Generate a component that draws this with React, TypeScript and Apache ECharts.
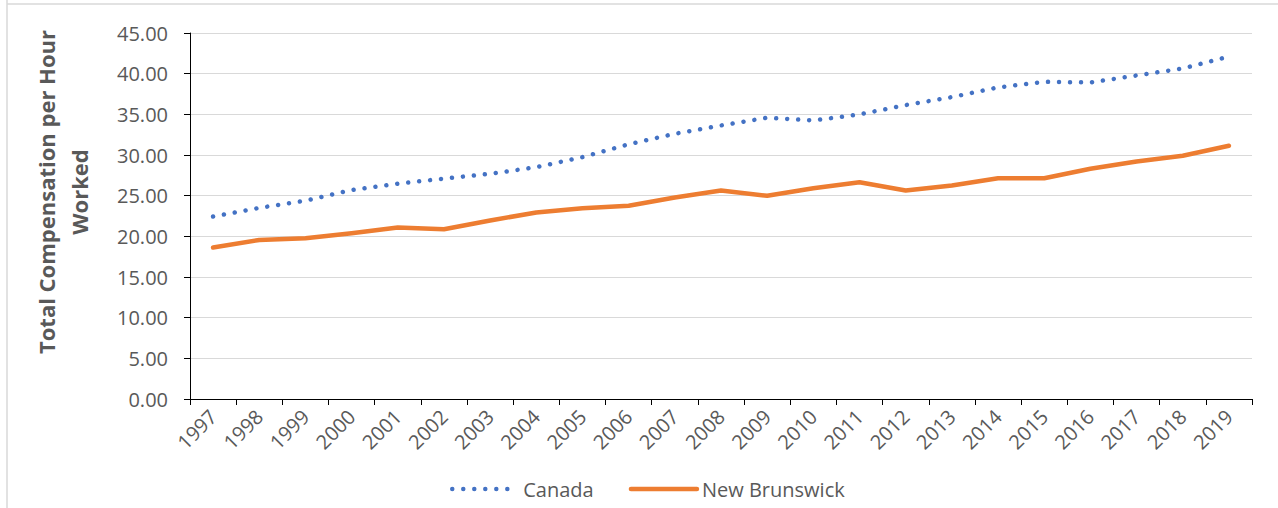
import React, { useEffect, useRef } from "react";
import * as echarts from "echarts";

const years = ["1997","1998","1999","2000","2001","2002","2003","2004","2005","2006","2007","2008","2009","2010","2011","2012","2013","2014","2015","2016","2017","2018","2019"];
const canada = [22.43, 23.5, 24.38, 25.7, 26.47, 27.1, 27.69, 28.5, 29.74, 31.32, 32.61, 33.63, 34.58, 34.25, 34.99, 36.14, 37.12, 38.31, 39.0, 38.92, 39.78, 40.64, 42.1];
const newBrunswick = [18.62, 19.56, 19.77, 20.39, 21.08, 20.88, 21.95, 22.93, 23.46, 23.75, 24.77, 25.63, 24.98, 25.92, 26.66, 25.63, 26.25, 27.15, 27.15, 28.3, 29.2, 29.9, 31.13];
const yTitle = "Total Compensation per Hour\nWorked";
const seriesNames = ["Canada", "New Brunswick"];

const FONT = "'Open Sans', sans-serif";
const GREY = "#595959";

export default function App() {
  const ref = useRef<HTMLDivElement>(null);
  useEffect(() => {
    if (!ref.current) return;
    const chart = echarts.init(ref.current, null, { renderer: "svg" });
    chart.setOption({
      animation: false,
      backgroundColor: "#ffffff",
      textStyle: { fontFamily: FONT },
      grid: { left: 190, right: 26, top: 33, height: 366, containLabel: false },
      xAxis: {
        type: "category",
        data: years,
        boundaryGap: true,
        axisLine: { show: true, lineStyle: { color: "#000", width: 1 } },
        axisTick: { show: true, length: 6, lineStyle: { color: "#000", width: 1 } },
        axisLabel: { rotate: 45, margin: 14, color: GREY, fontSize: 20, fontFamily: FONT, interval: 0 },
        splitLine: { show: false },
      },
      yAxis: {
        type: "value",
        min: 0,
        max: 45,
        interval: 5,
        axisLine: { show: true, lineStyle: { color: "#000", width: 1 } },
        axisTick: { show: true, length: 6, lineStyle: { color: "#000", width: 1 } },
        axisLabel: { margin: 22, color: GREY, fontSize: 20, fontFamily: FONT, formatter: (v: number) => v.toFixed(2) },
        splitLine: { show: true, lineStyle: { color: "#D9D9D9", width: 1 } },
      },
      legend: {
        left: 445,
        top: 474,
        itemWidth: 66,
        itemHeight: 14,
        itemGap: 35,
        itemStyle: { opacity: 0 },
        lineStyle: { width: 4.5, cap: "round" },
        textStyle: { color: GREY, fontSize: 20, fontFamily: FONT },
        data: seriesNames,
      },
      graphic: [
        { type: "line", shape: { x1: 7, y1: 0, x2: 7, y2: 508 }, style: { stroke: "#D9D9D9", lineWidth: 1.5 } },
        { type: "line", shape: { x1: 7, y1: 4, x2: 1278, y2: 4 }, style: { stroke: "#D9D9D9", lineWidth: 1.5 } },
        {
          type: "text",
          x: 62,
          y: 192,
          rotation: Math.PI / 2,
          style: {
            text: yTitle,
            fontFamily: FONT,
            fontSize: 22,
            fontWeight: "bold",
            fill: GREY,
            align: "center",
            verticalAlign: "middle",
            lineHeight: 33,
          },
        },
      ],
      series: [
        {
          name: seriesNames[0],
          type: "line",
          data: canada,
          symbol: "none",
          showSymbol: false,
          lineStyle: { color: "#4472C4", width: 4.5, type: [0.01, 11], cap: "round" },
          itemStyle: { color: "#4472C4" },
        },
        {
          name: seriesNames[1],
          type: "line",
          data: newBrunswick,
          symbol: "none",
          showSymbol: false,
          lineStyle: { color: "#ED7D31", width: 4.5, cap: "round", join: "round" },
          itemStyle: { color: "#ED7D31" },
        },
      ],
    });
    return () => chart.dispose();
  }, []);
  return <div ref={ref} style={{ position: "fixed", left: 0, top: 0, width: 1278, height: 508 }} />;
}
